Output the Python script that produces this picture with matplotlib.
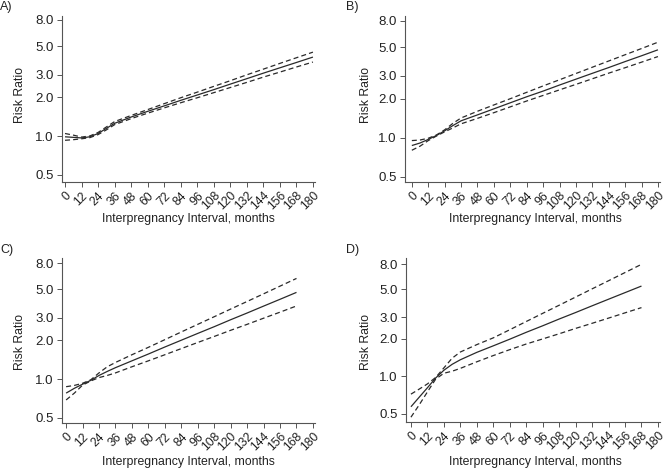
import matplotlib
matplotlib.use("Agg")
import matplotlib.pyplot as plt
from matplotlib.ticker import FixedLocator, NullLocator, FixedFormatter

plt.rcParams['font.family'] = ['Liberation Sans', 'DejaVu Sans']

months = [0, 6, 12, 18, 24, 30, 36, 48, 60, 72, 84, 96, 108, 120, 132, 144, 156, 168, 180]

# Panel A
a_rr = [0.99, 0.98, 0.97, 0.99, 1.05, 1.15, 1.26, 1.41, 1.56, 1.72, 1.90, 2.09, 2.30, 2.54, 2.80, 3.09, 3.40, 3.74, 4.12]
a_hi = [1.05, 1.02, 0.985, 1.005, 1.07, 1.18, 1.30, 1.45, 1.61, 1.79, 1.99, 2.20, 2.44, 2.70, 3.00, 3.32, 3.68, 4.07, 4.50]
a_lo = [0.93, 0.94, 0.955, 0.975, 1.03, 1.12, 1.23, 1.37, 1.51, 1.66, 1.82, 1.99, 2.18, 2.39, 2.62, 2.88, 3.15, 3.45, 3.77]

# Panel B
b_rr = [0.87, 0.91, 0.97, 1.04, 1.13, 1.24, 1.35, 1.50, 1.67, 1.86, 2.07, 2.29, 2.55, 2.83, 3.14, 3.48, 3.87, 4.29, 4.77]
b_hi = [0.95, 0.96, 0.99, 1.05, 1.15, 1.29, 1.42, 1.60, 1.79, 2.00, 2.24, 2.51, 2.80, 3.13, 3.50, 3.91, 4.37, 4.88, 5.46]
b_lo = [0.80, 0.86, 0.95, 1.03, 1.11, 1.19, 1.28, 1.41, 1.56, 1.73, 1.92, 2.12, 2.34, 2.58, 2.85, 3.15, 3.47, 3.83, 4.23]

# Panel C (ends at 168)
c_rr = [0.78, 0.85, 0.915, 0.98, 1.07, 1.15, 1.23, 1.39, 1.57, 1.78, 2.01, 2.27, 2.56, 2.90, 3.27, 3.70, 4.18, 4.73]
c_hi = [0.875, 0.895, 0.93, 0.99, 1.12, 1.25, 1.35, 1.55, 1.77, 2.03, 2.33, 2.67, 3.06, 3.51, 4.02, 4.61, 5.29, 6.07]
c_lo = [0.69, 0.78, 0.90, 0.97, 1.03, 1.07, 1.12, 1.25, 1.39, 1.55, 1.73, 1.93, 2.15, 2.40, 2.67, 2.98, 3.32, 3.71]

# Panel D (ends at 168)
d_rr = [0.57, 0.68, 0.81, 0.97, 1.12, 1.25, 1.36, 1.56, 1.76, 1.99, 2.26, 2.55, 2.89, 3.26, 3.69, 4.17, 4.71, 5.32]
d_hi = [0.72, 0.79, 0.87, 0.98, 1.17, 1.40, 1.57, 1.80, 2.04, 2.37, 2.76, 3.21, 3.73, 4.34, 5.05, 5.87, 6.83, 7.95]
d_lo = [0.47, 0.59, 0.75, 0.95, 1.06, 1.10, 1.16, 1.31, 1.47, 1.64, 1.82, 2.00, 2.20, 2.43, 2.67, 2.94, 3.24, 3.57]

y_ticks = [0.5, 1.0, 2.0, 3.0, 5.0, 8.0]
y_ticklabels = ["0.5", "1.0", "2.0", "3.0", "5.0", "8.0"]
x_ticks = list(range(0, 181, 12))
x_ticklabels = [str(v) for v in x_ticks]

W, H = 666, 471
fig = plt.figure(figsize=(W / 100, H / 100), dpi=100)

def rect(l, r, t, b):
    return [l / W, 1 - b / H, (r - l) / W, (b - t) / H]

panels = [
    ("A)", rect(62, 315, 16, 182), (-2.2, 181.5), (0.441, 8.59), a_rr, a_hi, a_lo, (0, 7), (20, 95), (188, 219)),
    ("B)", rect(405, 660, 16, 182), (-5.0, 181.5), (0.455, 8.7), b_rr, b_hi, b_lo, (346, 7), (366, 95), (535, 219)),
    ("C)", rect(62, 315, 258, 423), (-3.0, 181.5), (0.457, 8.75), c_rr, c_hi, c_lo, (0, 250), (20, 342), (188, 462)),
    ("D)", rect(406, 660, 258, 422), (-3.6, 181.5), (0.43, 8.94), d_rr, d_hi, d_lo, (346, 250), (366, 342), (535, 462)),
]

col = '#2a2a2a'
for label, pos, xl, yl, rr, hi, lo, lab_xy, ylab_xy, xlab_xy in panels:
    ax = fig.add_axes(pos)
    n = len(rr)
    xs = months[:n]
    ax.plot(xs, rr, color=col, lw=0.9, solid_capstyle='butt')
    ax.plot(xs, hi, color=col, lw=0.9, dashes=(4, 2.5))
    ax.plot(xs, lo, color=col, lw=0.9, dashes=(4, 2.5))
    ax.set_yscale('log')
    ax.set_xlim(*xl)
    ax.set_ylim(*yl)
    ax.yaxis.set_major_locator(FixedLocator(y_ticks))
    ax.yaxis.set_major_formatter(FixedFormatter(y_ticklabels))
    ax.yaxis.set_minor_locator(NullLocator())
    ax.set_xticks(x_ticks)
    ax.set_xticklabels(x_ticklabels, rotation=45, ha='right', rotation_mode='anchor')
    for s in ['top', 'right']:
        ax.spines[s].set_visible(False)
    for s in ['left', 'bottom']:
        ax.spines[s].set_color('#555555')
        ax.spines[s].set_linewidth(0.8)
    ax.tick_params(axis='both', colors='#555555', labelcolor='#222222', length=3.5, width=0.7, pad=2.5)
    ax.tick_params(axis='y', labelsize=9.5)
    ax.tick_params(axis='x', labelsize=8.8, pad=2)
    fig.text(lab_xy[0] / W, 1 - lab_xy[1] / H, label, fontsize=9, color='#222222', ha='left', va='center')
    fig.text(ylab_xy[0] / W, 1 - ylab_xy[1] / H, "Risk Ratio", fontsize=8.8, color='#222222', rotation=90, ha='center', va='center')
    fig.text(xlab_xy[0] / W, 1 - xlab_xy[1] / H, "Interpregnancy Interval, months", fontsize=8.8, color='#222222', ha='center', va='center')

fig.savefig("out.png", dpi=100, facecolor='white')
